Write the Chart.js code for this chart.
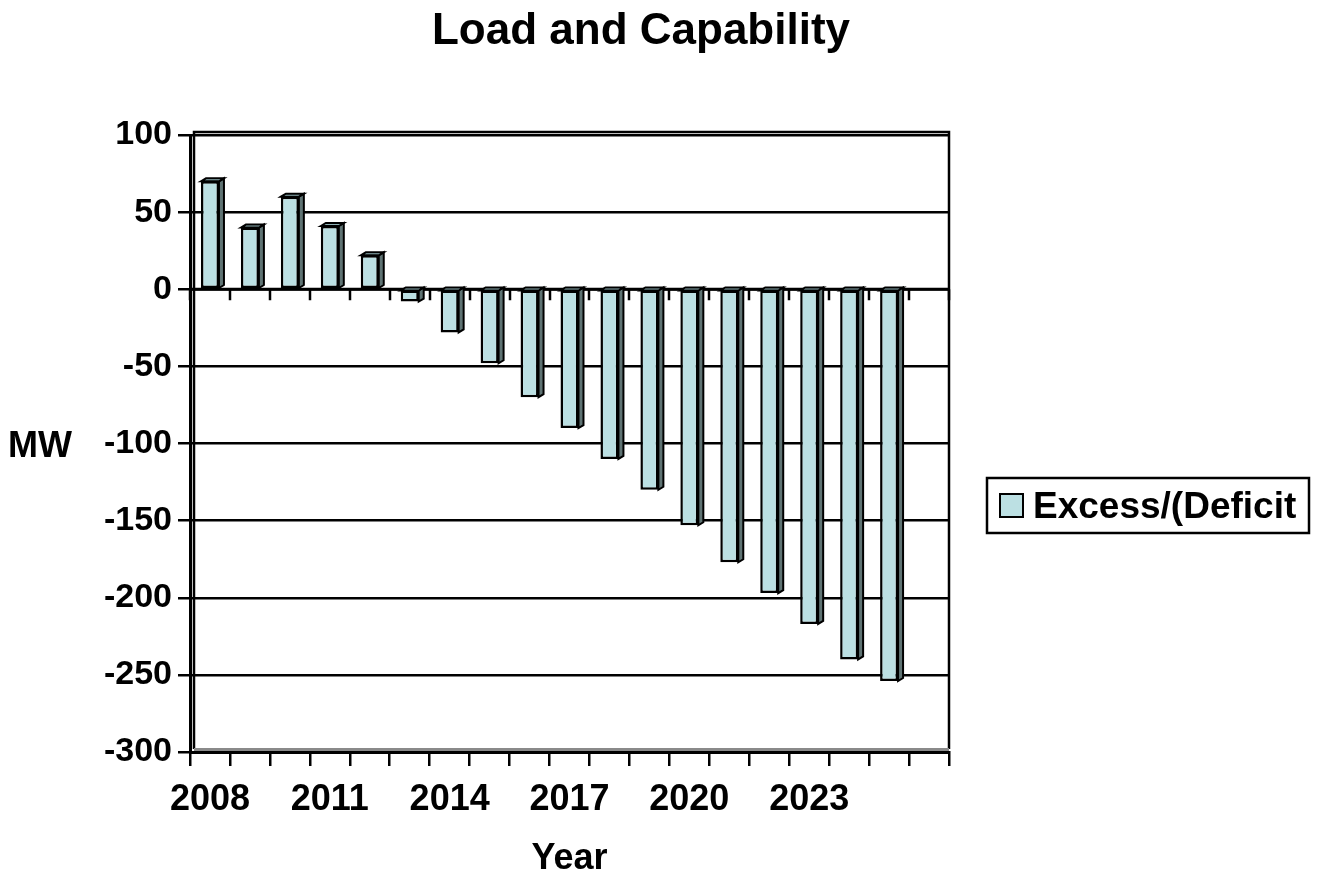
<!DOCTYPE html>
<html>
<head>
<meta charset="utf-8">
<title>Load and Capability</title>
<script src="https://cdn.jsdelivr.net/npm/chart.js@4/dist/chart.umd.min.js"></script>
<style>
  html, body { margin: 0; padding: 0; background: #ffffff; }
  #wrap { width: 1319px; height: 877px; position: relative; }
</style>
</head>
<body>
<div id="wrap"><canvas id="chart" width="1319" height="877"></canvas></div>
<script>
// Planning-year categories (the last slot is left empty on the axis)
const years = ['2008', '2009', '2010', '2011', '2012', '2013', '2014', '2015', '2016',
               '2017', '2018', '2019', '2020', '2021', '2022', '2023', '2024', '2025', ''];

// Excess / (Deficit) of capability over load, MW
const excessDeficit = [70, 40, 60, 41, 22, -8, -28, -48, -70, -90, -110, -130, -153, -177,
                       -197, -217, -240, -254];

// Value axis ticks, MW
const yTicks = [100, 50, 0, -50, -100, -150, -200, -250, -300];

const seriesName = 'Excess/(Deficit';
const FONT = '"Liberation Sans", Arial, Helvetica, sans-serif';
const FRONT = '#BCE0E3';
const SIDE = '#5F7373';
const TOP = '#8FB1B4';
const DEPTH_X = 5, DEPTH_Y = 3;

// Back wall, zero line with its category ticks, and the 3D side/top faces of each bar
const depthPlugin = {
  id: 'depth',
  beforeDatasetsDraw(chart) {
    const ctx = chart.ctx;
    const a = chart.chartArea;
    const x = chart.scales.x, y = chart.scales.y;
    ctx.save();
    ctx.strokeStyle = '#000';
    ctx.lineCap = 'butt';

    // wall outline
    ctx.lineWidth = 2.5;
    ctx.beginPath();
    ctx.moveTo(a.left + 4, a.bottom - 3);
    ctx.lineTo(a.left + 4, a.top - 3);
    ctx.lineTo(a.right, a.top - 3);
    ctx.lineTo(a.right, a.bottom - 3);
    ctx.stroke();

    // floor
    ctx.fillStyle = '#8a8a8a';
    ctx.fillRect(a.left + 4, a.bottom - 4, a.right - a.left - 4, 3);

    // zero line with category ticks
    const y0 = y.getPixelForValue(0);
    ctx.lineWidth = 3;
    ctx.beginPath();
    ctx.moveTo(a.left, y0);
    ctx.lineTo(a.right, y0);
    ctx.stroke();
    const step = x.getPixelForValue(1) - x.getPixelForValue(0);
    ctx.lineWidth = 2.5;
    ctx.beginPath();
    for (let i = 0; i <= years.length; i++) {
      const px = Math.round(x.getPixelForValue(0) - step / 2 + i * step);
      ctx.moveTo(px, y0);
      ctx.lineTo(px, y0 + 11);
    }
    ctx.stroke();

    // side and top faces
    const meta = chart.getDatasetMeta(0);
    ctx.lineWidth = 2;
    ctx.lineJoin = 'miter';
    meta.data.forEach(bar => {
      if (bar.skip) return;
      const p = bar.getProps(['x', 'y', 'base', 'width'], true);
      const l = p.x - p.width / 2, r = p.x + p.width / 2;
      const t = Math.min(p.y, p.base), b = Math.max(p.y, p.base);
      ctx.fillStyle = SIDE;
      ctx.beginPath();
      ctx.moveTo(r, t);
      ctx.lineTo(r + DEPTH_X, t - DEPTH_Y);
      ctx.lineTo(r + DEPTH_X, b - DEPTH_Y);
      ctx.lineTo(r, b);
      ctx.closePath();
      ctx.fill();
      ctx.stroke();
      ctx.fillStyle = TOP;
      ctx.beginPath();
      ctx.moveTo(l, t);
      ctx.lineTo(l + DEPTH_X, t - DEPTH_Y);
      ctx.lineTo(r + DEPTH_X, t - DEPTH_Y);
      ctx.lineTo(r, t);
      ctx.closePath();
      ctx.fill();
      ctx.stroke();
    });
    ctx.restore();
  },
  afterDraw(chart) {
    const ctx = chart.ctx;
    ctx.save();
    ctx.fillStyle = '#000';

    // chart title
    ctx.font = 'bold 44px ' + FONT;
    ctx.textAlign = 'center';
    ctx.textBaseline = 'alphabetic';
    ctx.fillText('Load and Capability', 641, 44);

    // value axis title (horizontal)
    ctx.font = 'bold 36px ' + FONT;
    ctx.textAlign = 'left';
    ctx.textBaseline = 'middle';
    ctx.fillText('MW', 8, 447);

    // legend
    const ds = chart.data.datasets[0];
    ctx.lineWidth = 2.5;
    ctx.strokeStyle = '#000';
    ctx.fillStyle = '#fff';
    ctx.fillRect(987, 478, 322, 55);
    ctx.strokeRect(987, 478, 322, 55);
    ctx.fillStyle = ds.backgroundColor;
    ctx.fillRect(1000, 494, 23, 23);
    ctx.lineWidth = 2;
    ctx.strokeRect(1000, 494, 23, 23);
    ctx.fillStyle = '#000';
    ctx.font = 'bold 37px ' + FONT;
    ctx.textBaseline = 'middle';
    ctx.fillText(ds.label, 1033, 508);
    ctx.restore();
  }
};

new Chart(document.getElementById('chart'), {
  type: 'bar',
  data: {
    labels: years,
    datasets: [{
      label: seriesName,
      data: excessDeficit,
      backgroundColor: FRONT,
      borderColor: '#000',
      borderWidth: 2.5,
      borderSkipped: false,
      barPercentage: 0.45,
      categoryPercentage: 1.0
    }]
  },
  options: {
    responsive: false,
    animation: false,
    devicePixelRatio: 1,
    layout: { padding: { top: 135, right: 370, bottom: 0, left: 0 } },
    plugins: {
      legend: { display: false },
      title: { display: false },
      tooltip: { enabled: false }
    },
    scales: {
      x: {
        offset: true,
        grid: { offset: true, drawOnChartArea: false, drawTicks: true, tickLength: 14,
                color: '#000', lineWidth: 2.5 },
        border: { display: true, color: '#000', width: 3 },
        ticks: {
          autoSkip: false, maxRotation: 0, minRotation: 0, padding: 12, color: '#000',
          font: { family: FONT, size: 36, weight: 'bold' },
          callback: (v, i) => (i % 3 === 0 ? years[i] : '')
        },
        title: {
          display: true, text: 'Year', color: '#000',
          font: { family: FONT, size: 36, weight: 'bold', lineHeight: 1 },
          padding: { top: 0, bottom: 0 }
        },
        afterFit: s => { s.height = 125; }
      },
      y: {
        min: -300, max: 100,
        afterBuildTicks: s => { s.ticks = yTicks.map(v => ({ value: v })); },
        grid: { color: '#000', lineWidth: 2.5, tickLength: 12, drawTicks: true },
        border: { display: true, color: '#000', width: 3 },
        ticks: {
          padding: 6, color: '#000',
          font: { family: FONT, size: 34, weight: 'bold' }
        },
        afterFit: s => { s.width = 190; }
      }
    }
  },
  plugins: [depthPlugin]
});
</script>
</body>
</html>
